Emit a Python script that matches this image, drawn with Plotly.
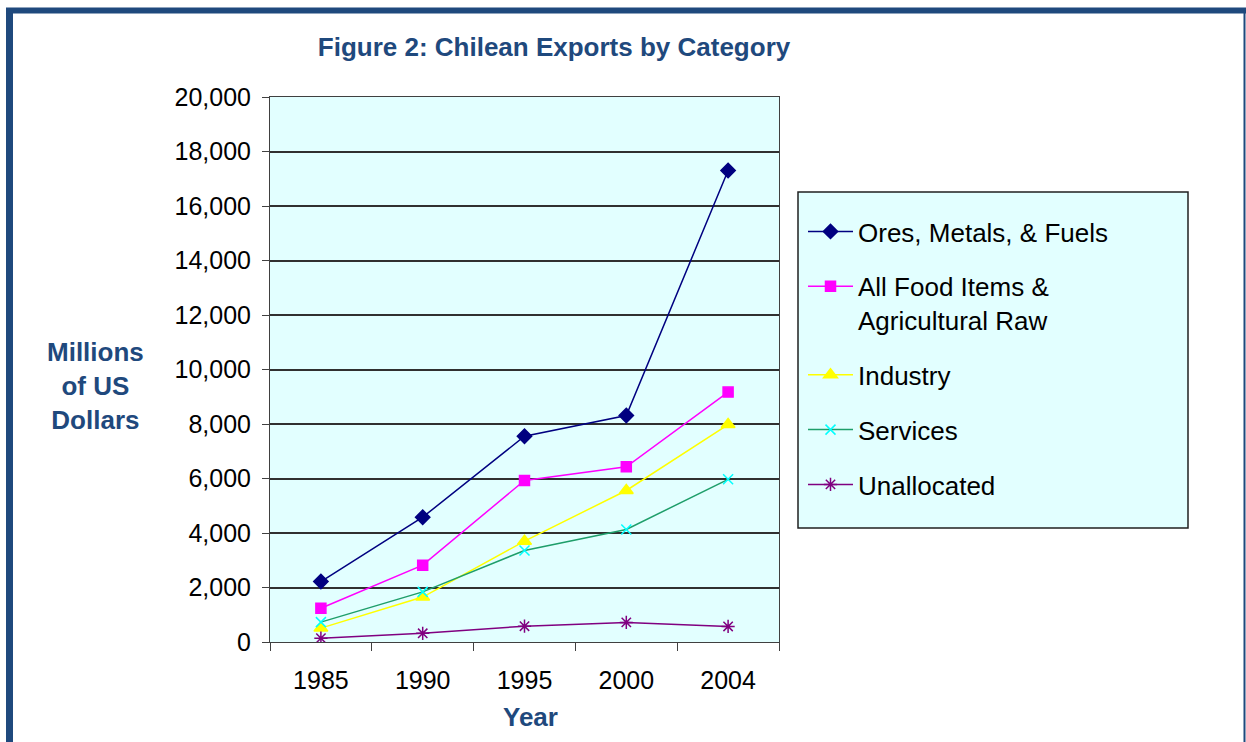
import plotly.graph_objects as go

years = ["1985", "1990", "1995", "2000", "2004"]
ores = [2220, 4580, 7550, 8310, 17300]
food = [1240, 2820, 5930, 6430, 9170]
industry = [510, 1650, 3700, 5560, 7980]
services = [730, 1840, 3360, 4130, 5970]
unallocated = [140, 320, 580, 720, 570]

FONT = "Arial, Liberation Sans, sans-serif"
BLUE = "#1F497D"
CYAN = "#E2FFFF"
W, H = 1246, 742
L, R, T, B = 270, 467, 97, 100


def px(x, y):
    """pixel -> paper coords"""
    return (x - L) / (W - L - R), (H - B - y) / (H - T - B)


series = [
    ("Ores, Metals, & Fuels", ores, "#000080", "#000080", "diamond", 11),
    ("All Food Items &<br>Agricultural Raw", food, "#FF00FF", "#FF00FF", "square", 10),
    ("Industry", industry, "#FFFF00", "#FFFF00", "triangle-up", 12),
    ("Services", services, "#1E9E6A", "#00FFFF", "x-thin-open", 10),
    ("Unallocated", unallocated, "#800080", "#800080", "asterisk-open", 11),
]

fig = go.Figure()
for i, (name, vals, lc, mc, sym, size) in enumerate(series):
    fig.add_trace(
        go.Scatter(
            x=years,
            y=vals,
            name=name,
            legendgroup=str(i),
            mode="lines+markers",
            line=dict(color=lc, width=1.5),
            marker=dict(symbol=sym, size=size, color=mc, line=dict(color=mc, width=1.5)),
        )
    )

fig.update_layout(
    width=W,
    height=H,
    margin=dict(l=L, r=R, t=T, b=B),
    paper_bgcolor="white",
    plot_bgcolor=CYAN,
    font=dict(family=FONT, size=25, color="black"),
    title=dict(
        text="<b>Figure 2: Chilean Exports by Category</b>",
        font=dict(size=26, color=BLUE),
        xref="container",
        x=554 / W,
        xanchor="center",
        y=1 - 47 / H,
        yanchor="middle",
    ),
    showlegend=True,
    legend=dict(
        x=px(803, 0)[0],
        y=px(0, 208)[1],
        xanchor="left",
        yanchor="top",
        bgcolor="rgba(0,0,0,0)",
        borderwidth=0,
        font=dict(size=26),
        valign="top",
        tracegroupgap=18,
        itemwidth=45,
    ),
)

fig.update_xaxes(
    type="category",
    range=[-0.5, 4.5],
    tickson="boundaries",
    ticks="outside",
    ticklen=8,
    tickcolor="#404040",
    showline=True,
    linecolor="#404040",
    mirror=True,
    showgrid=False,
    ticklabelstandoff=16,
)
fig.update_yaxes(
    range=[0, 20000],
    tickvals=list(range(0, 20001, 2000)),
    tickformat=",d",
    ticks="outside",
    ticklen=7,
    tickcolor="#404040",
    showline=True,
    linecolor="#404040",
    mirror=True,
    showgrid=True,
    gridcolor="#303030",
    gridwidth=1.5,
    zeroline=False,
    ticklabelstandoff=6,
)

# axis titles
ax, ay = px(95, 386)
fig.add_annotation(
    text="<b>Millions<br>of US<br>Dollars</b>",
    xref="paper", yref="paper", x=ax, y=ay, xanchor="center", yanchor="middle",
    showarrow=False, font=dict(size=26, color=BLUE), align="center",
)
ax, ay = px(530, 717)
fig.add_annotation(
    text="<b>Year</b>",
    xref="paper", yref="paper", x=ax, y=ay, xanchor="center", yanchor="middle",
    showarrow=False, font=dict(size=26, color=BLUE),
)

# legend box
lx0, ly0 = px(798, 528)
lx1, ly1 = px(1188, 192)
fig.add_shape(type="rect", xref="paper", yref="paper", x0=lx0, y0=ly0, x1=lx1, y1=ly1,
              fillcolor=CYAN, line=dict(color="#202020", width=1.5), layer="below")

# page frame
x0, y0 = px(9.5, 10.5)
x1, y1 = px(1244.5, 760)
fig.add_shape(type="line", xref="paper", yref="paper", x0=x0, y0=y1, x1=x0, y1=y0,
              line=dict(color=BLUE, width=7))
fig.add_shape(type="line", xref="paper", yref="paper", x0=px(6, 0)[0], y0=y0, x1=px(1246, 0)[0], y1=y0,
              line=dict(color=BLUE, width=6))
fig.add_shape(type="line", xref="paper", yref="paper", x0=x1, y0=y0, x1=x1, y1=y1,
              line=dict(color=BLUE, width=2))

fig.write_html(
    "out.html",
    config={"displayModeBar": False},
    post_script="document.body.style.margin='0';",
)
